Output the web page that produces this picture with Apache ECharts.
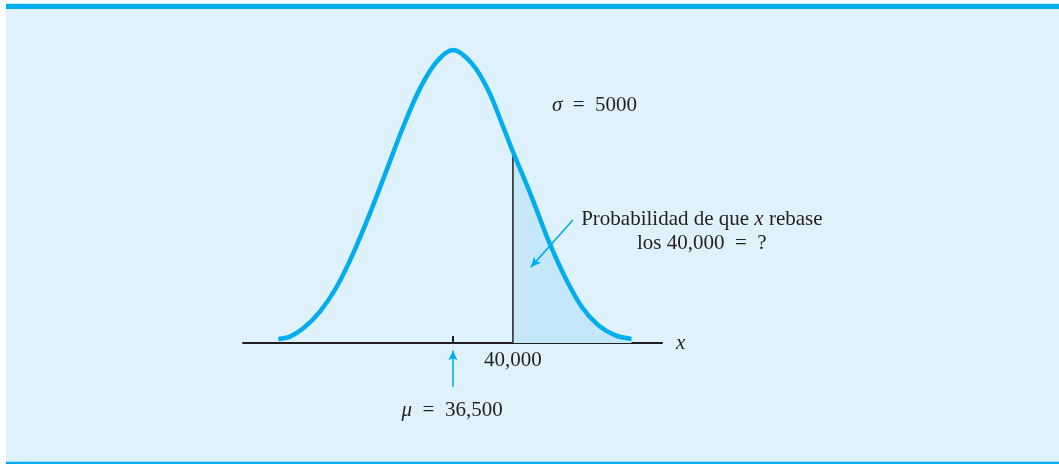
<!DOCTYPE html>
<html>
<head>
<meta charset="utf-8">
<script src="https://cdn.jsdelivr.net/npm/echarts@6/dist/echarts.min.js"></script>
<style>
html, body { margin: 0; padding: 0; background: #fff; }
#main { width: 1059px; height: 464px; }
</style>
</head>
<body>
<div id="main"></div>
<script>
// curve: x in dollars, height relative to the peak (peak = 100)
var curveX = [26310, 26990, 27770, 28740, 29720, 30680, 31660, 32630, 33600, 34580, 35550, 36500,
              37590, 38560, 39430, 40000, 41090, 42060, 43030, 44010, 44980, 45950, 46920];
var curveY = [1.4, 2.2, 5.0, 10.7, 19.2, 30.6, 44.3, 59.0, 73.8, 86.9, 96.0, 100,
              95.5, 86.3, 73.8, 65.3, 49.9, 35.2, 22.6, 12.4, 6.1, 2.7, 1.4];
var mu = 36500;
var cut = 40000;
var cutHeight = 65.3;
var tickLabels = ['40,000'];

var ink = '#231f20';
var blue = '#00aeef';
var serif = '"Liberation Serif", "DejaVu Serif", serif';

var chart = echarts.init(document.getElementById('main'));

var curve = curveX.map(function (x, i) { return [x, curveY[i]]; });
var tail = curve.filter(function (p) { return p[0] >= cut; });

chart.setOption({
  animation: false,
  grid: { left: 243, right: 397, top: 20.7, bottom: 33.1 },
  xAxis: {
    type: 'value',
    min: 24250,
    max: 48700,
    splitLine: { show: false },
    axisLine: { onZero: true, lineStyle: { color: ink, width: 2 } },
    axisTick: { show: true, inside: true, length: 7, customValues: [mu], lineStyle: { color: ink, width: 2 } },
    axisLabel: { show: false },
    name: 'x',
    nameLocation: 'end',
    nameGap: 14,
    nameTextStyle: { color: ink, fontFamily: serif, fontSize: 21, fontStyle: 'italic', padding: [0, 0, 16, 0] }
  },
  yAxis: { type: 'value', min: -30, max: 110, show: false },
  series: [
    {
      type: 'line', data: tail, smooth: 0.35, symbol: 'none', silent: true,
      lineStyle: { width: 0 },
      areaStyle: { color: '#c5e8f8', opacity: 1 }
    },
    {
      type: 'line', data: [[cut, 0], [cut, cutHeight]], symbol: 'none', silent: true,
      lineStyle: { color: ink, width: 1.5 }
    },
    {
      type: 'line', data: curve, smooth: 0.35, symbol: 'none', clip: false, silent: true,
      lineStyle: { color: blue, width: 4.5, join: 'round' },
      markLine: {
        silent: true,
        symbol: ['none', 'arrow'],
        symbolSize: [7, 10],
        label: { show: false },
        lineStyle: { color: blue, width: 1.6, type: 'solid' },
        data: [
          [{ coord: [mu, -14.9] }, { coord: [mu, -2.6] }],
          [{ coord: [43500, 42] }, { coord: [41050, 25.9] }]
        ]
      }
    }
  ]
});

function px(x, y) { return chart.convertToPixel({ gridIndex: 0 }, [x, y]); }

var base = { fill: ink, fontFamily: serif, fontSize: 21 };
var rich = { i: { fontFamily: serif, fontSize: 21, fontStyle: 'italic', fill: ink } };
function label(x, y, text, align) {
  var p = px(x, y);
  return {
    type: 'text', x: p[0], y: p[1], z: 100, silent: true,
    style: Object.assign({ text: text, rich: rich, align: align, verticalAlign: 'middle' }, base)
  };
}

chart.setOption({
  graphic: [
    { type: 'rect', z: -10, silent: true, shape: { x: 6, y: 9, width: 1053, height: 453 }, style: { fill: '#dff2fc' } },
    { type: 'rect', z: -9, silent: true, shape: { x: 6, y: 3.7, width: 1053, height: 5.3 }, style: { fill: blue } },
    { type: 'rect', z: -9, silent: true, shape: { x: 6, y: 461.7, width: 1053, height: 2.3 }, style: { fill: blue } },
    label(cut, -5.8, tickLabels[0], 'center'),
    label(42275, 80.9, '{i|σ}\u2002=\u20025000', 'left'),
    label(51025, 42.3, 'Probabilidad de que {i|x} rebase', 'center'),
    label(51025, 34.1, 'los 40,000\u2002=\u2002?', 'center'),
    label(36450, -22.9, '{i|μ}\u2002=\u200236,500', 'center')
  ]
});
</script>
</body>
</html>
